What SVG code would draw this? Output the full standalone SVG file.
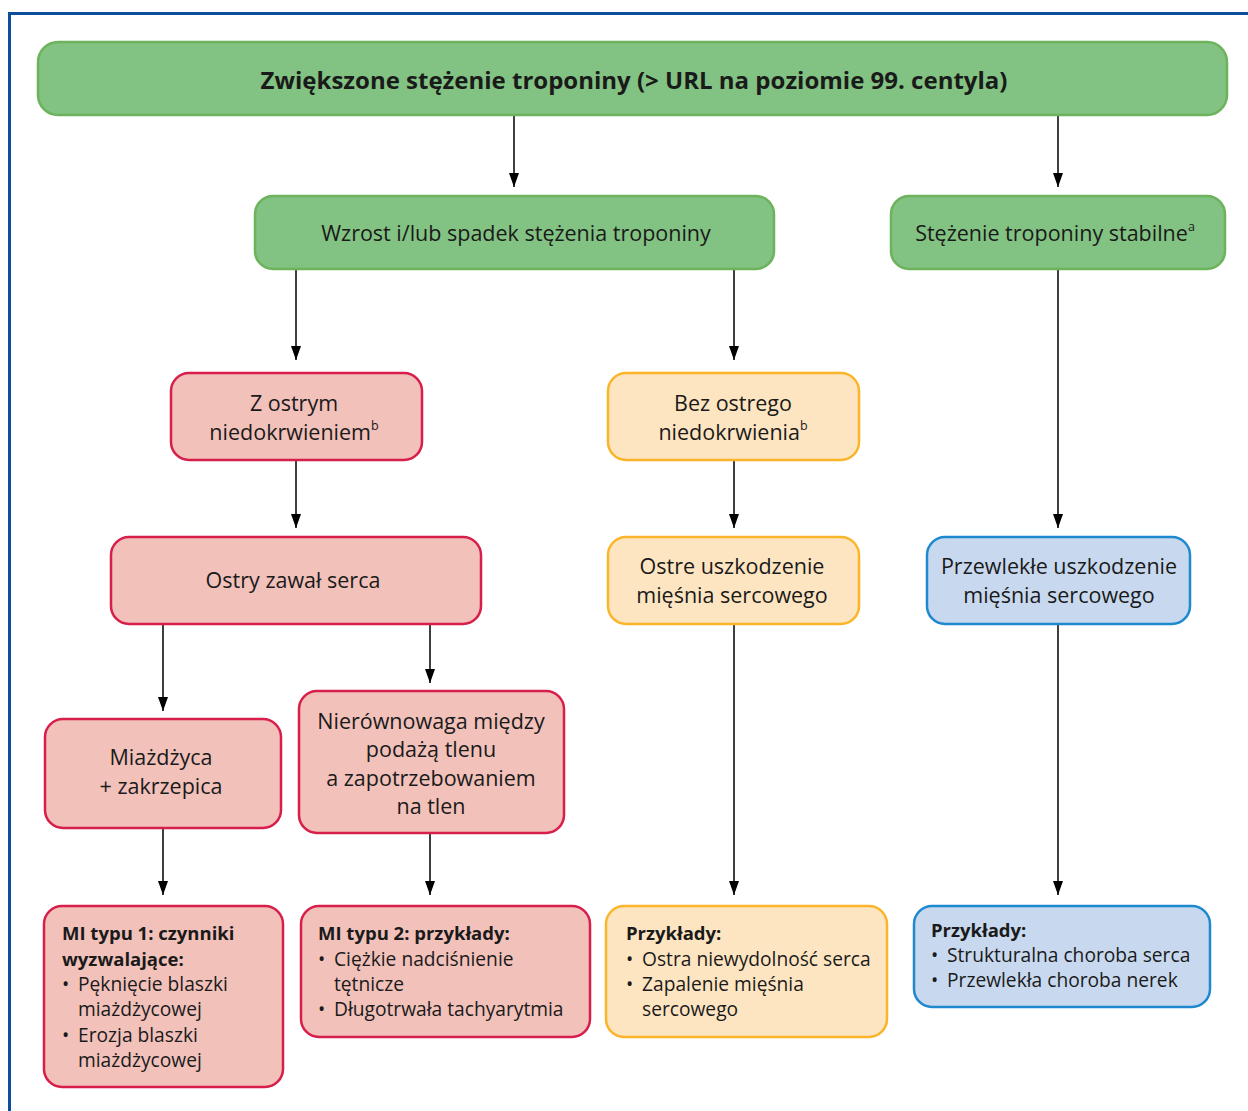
<svg xmlns="http://www.w3.org/2000/svg" width="1248" height="1111" viewBox="0 0 1248 1111">
<style>
text{font-family:"Open Sans","Noto Sans","Liberation Sans",sans-serif;fill:#1a1a1a;}
.c{text-anchor:middle;font-size:21.5px;}
.h{text-anchor:middle;font-size:24px;font-weight:bold;}
.t{font-size:19.2px;}
.b{font-weight:bold;font-size:18.5px;}
.sup{font-size:12.5px;}
.g{fill:#82c282;stroke:#6db35c;stroke-width:2.5;}
.r{fill:#f2c1ba;stroke:#d81f4c;stroke-width:2.5;}
.o{fill:#fee5c1;stroke:#fbb52b;stroke-width:2.5;}
.u{fill:#c8d9ef;stroke:#1e89cf;stroke-width:2.5;}
.a{stroke:#000;stroke-width:1.5;fill:none;marker-end:url(#ah);}
</style>
<defs>
<marker id="ah" markerWidth="14" markerHeight="10" refX="14" refY="5" orient="auto" markerUnits="userSpaceOnUse" viewBox="0 0 14 10">
<path d="M0,0 L14,5 L0,10 Z" fill="#000"/>
</marker>
</defs>
<rect width="1248" height="1111" fill="#fff"/>
<path d="M9.5,1111 V13.5 H1248" fill="none" stroke="#0b4f9c" stroke-width="3"/>
<g id="connectors">
<line class="a" x1="514" y1="115" x2="514" y2="187"/>
<line class="a" x1="1058" y1="115" x2="1058" y2="187"/>
<line class="a" x1="296" y1="269" x2="296" y2="360"/>
<line class="a" x1="734" y1="269" x2="734" y2="360"/>
<line class="a" x1="1058" y1="269" x2="1058" y2="528"/>
<line class="a" x1="296" y1="460" x2="296" y2="528"/>
<line class="a" x1="734" y1="460" x2="734" y2="528"/>
<line class="a" x1="163" y1="624" x2="163" y2="711"/>
<line class="a" x1="430" y1="624" x2="430" y2="683"/>
<line class="a" x1="734" y1="624" x2="734" y2="895"/>
<line class="a" x1="1058" y1="624" x2="1058" y2="895"/>
<line class="a" x1="163" y1="828" x2="163" y2="895"/>
<line class="a" x1="430" y1="833" x2="430" y2="895"/>
</g>
<g id="n-top"><rect class="g" x="38" y="42" width="1189" height="73" rx="20"/>
<text class="h" x="634" y="89">Zwiększone stężenie troponiny (&gt; URL na poziomie 99. centyla)</text></g>
<g id="n-wzrost"><rect class="g" x="255" y="196" width="519" height="73" rx="18"/>
<text class="c" x="516" y="241">Wzrost i/lub spadek stężenia troponiny</text></g>
<g id="n-stabilne"><rect class="g" x="891" y="196" width="334" height="73" rx="18"/>
<text class="c" x="1055" y="241">Stężenie troponiny stabilne<tspan class="sup" dy="-10">a</tspan></text></g>
<g id="n-zostrym"><rect class="r" x="171" y="373" width="251" height="87" rx="18"/>
<text class="c" x="294" y="411">Z ostrym</text>
<text class="c" x="294" y="440">niedokrwieniem<tspan class="sup" dy="-10">b</tspan></text></g>
<g id="n-bez"><rect class="o" x="608" y="373" width="251" height="87" rx="18"/>
<text class="c" x="733" y="411">Bez ostrego</text>
<text class="c" x="733" y="440">niedokrwienia<tspan class="sup" dy="-10">b</tspan></text></g>
<g id="n-zawal"><rect class="r" x="111" y="537" width="370" height="87" rx="18"/>
<text class="c" x="293" y="588">Ostry zawał serca</text></g>
<g id="n-ostre"><rect class="o" x="608" y="537" width="251" height="87" rx="18"/>
<text class="c" x="732" y="574">Ostre uszkodzenie</text>
<text class="c" x="732" y="603">mięśnia sercowego</text></g>
<g id="n-przewlekle"><rect class="u" x="927" y="537" width="263" height="87" rx="18"/>
<text class="c" x="1059" y="574">Przewlekłe uszkodzenie</text>
<text class="c" x="1059" y="603">mięśnia sercowego</text></g>
<g id="n-miazdzyca"><rect class="r" x="45" y="719" width="236" height="109" rx="18"/>
<text class="c" x="161" y="765">Miażdżyca</text>
<text class="c" x="161" y="794">+ zakrzepica</text></g>
<g id="n-nierownowaga"><rect class="r" x="299" y="691" width="265" height="142" rx="18"/>
<text class="c" x="431" y="729">Nierównowaga między</text>
<text class="c" x="431" y="757">podażą tlenu</text>
<text class="c" x="431" y="786">a zapotrzebowaniem</text>
<text class="c" x="431" y="814">na tlen</text></g>
<g id="n-mi1"><rect class="r" x="44" y="906" width="239" height="181" rx="18"/>
<text class="b" x="62" y="940">MI typu 1: czynniki</text>
<text class="b" x="62" y="966">wyzwalające:</text>
<text class="t" x="62" y="991">•</text><text class="t" x="78" y="991">Pęknięcie blaszki</text>
<text class="t" x="78" y="1016">miażdżycowej</text>
<text class="t" x="62" y="1042">•</text><text class="t" x="78" y="1042">Erozja blaszki</text>
<text class="t" x="78" y="1067">miażdżycowej</text></g>
<g id="n-mi2"><rect class="r" x="301" y="906" width="289" height="131" rx="18"/>
<text class="b" x="318" y="940">MI typu 2: przykłady:</text>
<text class="t" x="318" y="966">•</text><text class="t" x="334" y="966">Ciężkie nadciśnienie</text>
<text class="t" x="334" y="991">tętnicze</text>
<text class="t" x="318" y="1016">•</text><text class="t" x="334" y="1016">Długotrwała tachyarytmia</text></g>
<g id="n-przyk1"><rect class="o" x="606" y="906" width="281" height="131" rx="18"/>
<text class="b" x="626" y="940">Przykłady:</text>
<text class="t" x="626" y="966">•</text><text class="t" x="642" y="966">Ostra niewydolność serca</text>
<text class="t" x="626" y="991">•</text><text class="t" x="642" y="991">Zapalenie mięśnia</text>
<text class="t" x="642" y="1016">sercowego</text></g>
<g id="n-przyk2"><rect class="u" x="914" y="906" width="296" height="101" rx="18"/>
<text class="b" x="931" y="937">Przykłady:</text>
<text class="t" x="931" y="962">•</text><text class="t" x="947" y="962">Strukturalna choroba serca</text>
<text class="t" x="931" y="987">•</text><text class="t" x="947" y="987">Przewlekła choroba nerek</text></g>
</svg>
